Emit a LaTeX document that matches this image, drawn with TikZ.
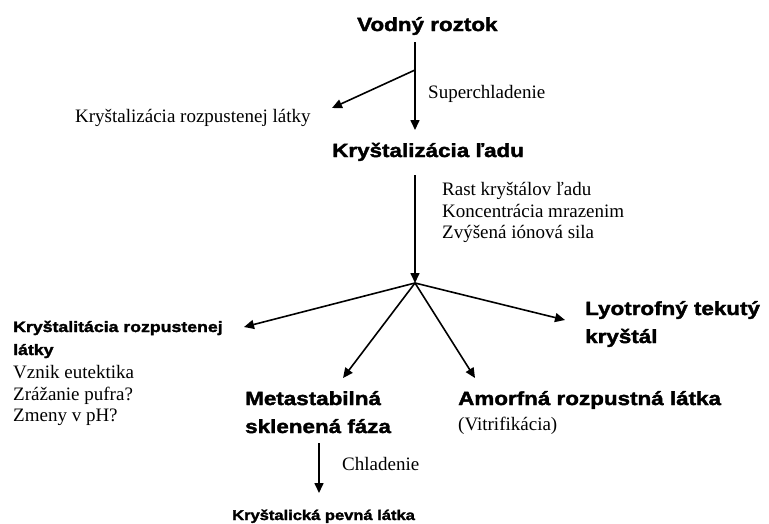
\documentclass[tikz,border=0pt]{standalone}
\usepackage{fontspec}
\usetikzlibrary{arrows.meta}
\setmainfont{Liberation Serif}
\newfontfamily\hdfont[FakeStretch=1.18,FakeBold=2]{Liberation Sans}
\begin{document}
\begin{tikzpicture}[x=1pt,y=-1pt,
  every node/.style={inner sep=0pt,anchor=base west},
  head/.style={font=\hdfont\bfseries\fontsize{19}{23}\selectfont},
  subhead/.style={font=\hdfont\bfseries\fontsize{15}{18}\selectfont},
  smallhead/.style={font=\hdfont\bfseries\fontsize{14}{17}\selectfont},
  note/.style={font=\fontsize{19}{22}\selectfont},
  arr/.style={line width=1.6pt,-{Triangle[length=10pt,width=9pt]}}]
\useasboundingbox (0,0) rectangle (769,523);

% stages of the freezing process
\node[head] (vr) at (357,31) {Vodný roztok};
\node[head] (kl) at (332,157) {Kryštalizácia ľadu};
\node[note] (krl) at (75,122) {Kryštalizácia rozpustenej látky};
\node[note] (sup) at (428,98) {Superchladenie};

\node[note] (r1) at (442,195) {Rast kryštálov ľadu};
\node[note] (r2) at (442,217) {Koncentrácia mrazenim};
\node[note] (r3) at (442,238) {Zvýšená iónová sila};

\node[subhead] (k1) at (13,332) {Kryštalitácia rozpustenej};
\node[subhead] (k2) at (13,355) {látky};
\node[note] (k3) at (13,378) {Vznik eutektika};
\node[note] (k4) at (13,400) {Zrážanie pufra?};
\node[note] (k5) at (13,421) {Zmeny v pH?};

\node[head] (ly1) at (585,315) {Lyotrofný tekutý};
\node[head] (ly2) at (585,343) {kryštál};

\node[head] (ms1) at (245,405) {Metastabilná};
\node[head] (ms2) at (245,433) {sklenená fáza};

\node[head] (am) at (458,405) {Amorfná rozpustná látka};
\node[note] (vit) at (458,430) {(Vitrifikácia)};

\node[note] (chl) at (342,470) {Chladenie};
\node[smallhead] (kpl) at (232,520) {Kryštalická pevná látka};

% branch points and arrow ends
\coordinate (t0) at (415,42);
\coordinate (b1) at (415,70);
\coordinate (e1) at (415,130);
\coordinate (e0) at (332,108);
\coordinate (t2) at (415,175);
\coordinate (j) at (415,283);
\coordinate (eK) at (244,327);
\coordinate (eM) at (343,378);
\coordinate (eA) at (475,378);
\coordinate (eL) at (565,320);
\coordinate (t3) at (319,443);
\coordinate (eP) at (319,493);

% connectors
\draw[arr] (t0) -- (e1);
\draw[arr] (b1) -- (e0);
\draw[arr] (t2) -- (j);
\draw[arr] (j) -- (eK);
\draw[arr] (j) -- (eM);
\draw[arr] (j) -- (eA);
\draw[arr] (j) -- (eL);
\draw[arr] (t3) -- (eP);
\end{tikzpicture}
\end{document}
